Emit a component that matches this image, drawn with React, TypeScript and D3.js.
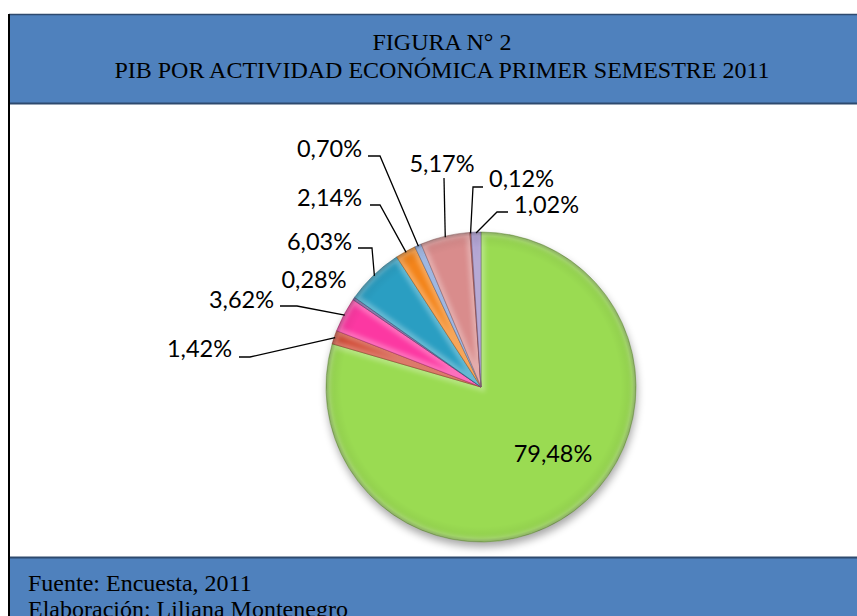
import React from "react";
import * as d3 from "d3";

// ---- data ----
const sectors = ["S1", "S2", "S3", "S4", "S5", "S6", "S7", "S8", "S9", "S10"];
const shares = [79.48, 1.42, 3.62, 0.28, 6.03, 2.14, 0.7, 5.17, 0.12, 1.02];
const labels = ["79,48%", "1,42%", "3,62%", "0,28%", "6,03%", "2,14%", "0,70%", "5,17%", "0,12%", "1,02%"];
const colors = ["#9ADB52", "#CF4630", "#FC38A2", "#5E4A8E", "#2A9EC2", "#F3841A", "#7A9BD6", "#D98C8C", "#B84A48", "#9A88C4"];
const titleLines = ["FIGURA N° 2", "PIB POR ACTIVIDAD ECONÓMICA PRIMER SEMESTRE 2011"];
const footerLines = ["Fuente: Encuesta, 2011", "Elaboración: Liliana Montenegro"];

// ---- layout (label placement as dragged in the original) ----
type LL = { x: number; y: number; anchor: string; line: number[][] | null };
const labelLayout: LL[] = [
  { x: 553, y: 462, anchor: "middle", line: null },
  { x: 232, y: 357, anchor: "end", line: [[239, 357], [250, 357]] },
  { x: 274, y: 308, anchor: "end", line: [[280, 306], [297, 306]] },
  { x: 314, y: 288, anchor: "middle", line: null },
  { x: 352, y: 250, anchor: "end", line: [[358, 248], [372, 248]] },
  { x: 362, y: 206, anchor: "end", line: [[370, 205], [380, 205]] },
  { x: 362, y: 157, anchor: "end", line: [[368, 156], [380, 156]] },
  { x: 442, y: 172, anchor: "middle", line: [[444, 178]] },
  { x: 489, y: 187, anchor: "start", line: [[483, 187], [473, 187]] },
  { x: 514, y: 213, anchor: "start", line: [[508, 212], [497, 212]] },
];

const W = 857;
const H = 616;
const cx = 481;
const cy = 387;
const R = 155;

export default function App() {
  const data = sectors.map((s, i) => ({ name: s, value: shares[i], i }));
  const pie = d3
    .pie<any>()
    .sort(null)
    .value((d: any) => d.value)
    .startAngle(0)
    .endAngle(2 * Math.PI);
  const arcs = pie(data);
  const arc = d3.arc<any>().innerRadius(0).outerRadius(R);
  const pt = (a: number, r: number) => [cx + r * Math.sin(a), cy - r * Math.cos(a)];

  return (
    <svg
      width={W}
      height={H}
      style={{ position: "absolute", left: 0, top: 0, display: "block" }}
      xmlns="http://www.w3.org/2000/svg"
    >
      <defs>
        <filter id="blur3" x="-20%" y="-20%" width="140%" height="140%">
          <feGaussianBlur stdDeviation="2" />
        </filter>
        <filter id="shadow" x="-30%" y="-30%" width="160%" height="160%">
          <feGaussianBlur stdDeviation="4" />
        </filter>
        <radialGradient id="rim" cx="0.5" cy="0.5" r="0.5">
          <stop offset="0.9" stopColor="#000" stopOpacity="0" />
          <stop offset="0.975" stopColor="#000" stopOpacity="0.06" />
          <stop offset="1" stopColor="#000" stopOpacity="0.25" />
        </radialGradient>
        {arcs.map((a, i) => (
          <clipPath id={`clip${i}`} key={i}>
            <path d={arc(a) as string} transform={`translate(${cx},${cy})`} />
          </clipPath>
        ))}
      </defs>

      {/* background frame */}
      <rect x={0} y={0} width={W} height={H} fill="#fff" />
      <rect x={9} y={14} width={W - 9} height={90} fill="#4F81BD" />
      <line x1={9} x2={W} y1={14.5} y2={14.5} stroke="#2E4A6E" strokeWidth={1.5} />
      <line x1={9} x2={W} y1={103.5} y2={103.5} stroke="#2E4A6E" strokeWidth={2} />
      <rect x={9} y={557} width={W - 9} height={H - 557} fill="#4F81BD" />
      <line x1={9} x2={W} y1={557.5} y2={557.5} stroke="#2E4A6E" strokeWidth={2} />
      <line x1={9} x2={9} y1={14} y2={H} stroke="#000" strokeWidth={2} />

      {/* title */}
      <g fontFamily="'Liberation Serif', 'Times New Roman', serif" fontSize={24} fill="#000" textAnchor="middle">
        <text x={442} y={50}>{titleLines[0]}</text>
        <text x={442} y={78}>{titleLines[1]}</text>
      </g>

      {/* footer */}
      <g fontFamily="'Liberation Serif', 'Times New Roman', serif" fontSize={24} fill="#000">
        <text x={28} y={591}>{footerLines[0]}</text>
        <text x={28} y={617}>{footerLines[1]}</text>
      </g>

      {/* pie shadow */}
      <circle cx={cx + 1} cy={cy + 5} r={R} fill="#000" opacity={0.35} filter="url(#shadow)" />

      {/* slices */}
      {arcs.map((a, i) => {
        const d = arc(a) as string;
        const base = d3.color(colors[i])!;
        const dark = base.darker(0.9).formatHex();
        return (
          <g key={i}>
            <g clipPath={`url(#clip${i})`}>
              <g transform={`translate(${cx},${cy})`}>
                <path d={d} fill={colors[i]} />
                <path d={d} fill="none" stroke="#fff" strokeOpacity={0.28} strokeWidth={8} filter="url(#blur3)" />
              </g>
            </g>
            <path d={d} transform={`translate(${cx},${cy})`} fill="none" stroke={dark} strokeWidth={0.8} strokeOpacity={0.7} />
          </g>
        );
      })}
      <circle cx={cx} cy={cy} r={R} fill="url(#rim)" />

      {/* leader lines */}
      {arcs.map((a, i) => {
        const lay = labelLayout[i];
        if (!lay.line) return null;
        const mid = (a.startAngle + a.endAngle) / 2;
        const end = pt(mid, R - 1);
        const pts = [...lay.line, end];
        return (
          <polyline
            key={i}
            points={pts.map((p) => p.join(",")).join(" ")}
            fill="none"
            stroke="#000"
            strokeWidth={1.3}
          />
        );
      })}

      {/* labels */}
      <g fontFamily="Lato, 'Open Sans', sans-serif" fontSize={23.5} fill="#000">
        {arcs.map((a, i) => (
          <text key={i} x={labelLayout[i].x} y={labelLayout[i].y} textAnchor={labelLayout[i].anchor}>
            {labels[i]}
          </text>
        ))}
      </g>
    </svg>
  );
}
